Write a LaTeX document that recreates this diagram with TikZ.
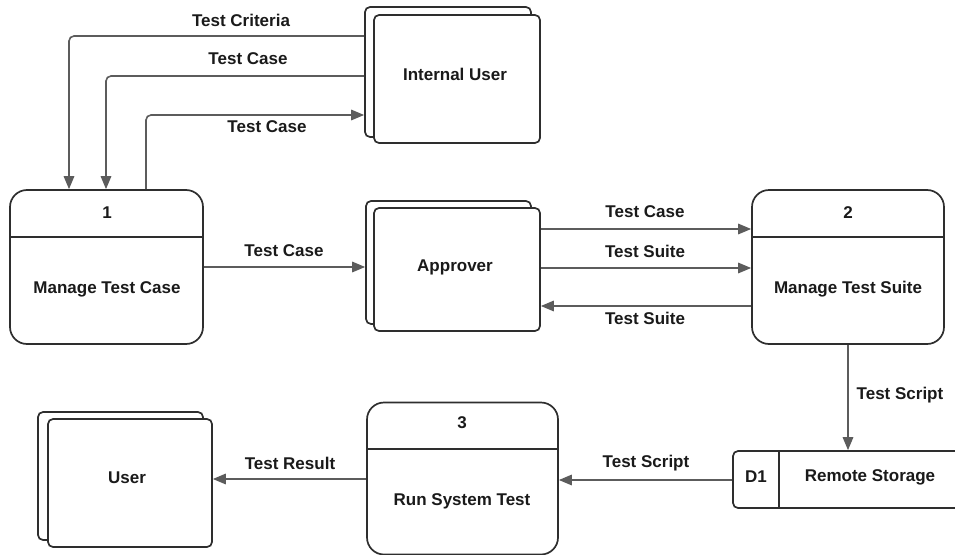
\documentclass[tikz,border=0pt]{standalone}
\usepackage{fontspec}
\setmainfont{Liberation Sans}
\usetikzlibrary{arrows.meta,calc}

\definecolor{edge}{HTML}{2E2E2E}
\definecolor{flowc}{HTML}{5C5C5C}
\definecolor{ink}{HTML}{1A1A1A}

\tikzset{
  box/.style={draw=edge, line width=1.7pt, fill=white, rounded corners=5pt, inner sep=0pt},
  proc/.style={draw=edge, line width=1.7pt, fill=white, rounded corners=17pt, inner sep=0pt},
  lbl/.style={font=\bfseries\fontsize{17}{20}\selectfont, text=ink, inner sep=0pt},
  flow/.style={draw=flowc, line width=1.6pt, rounded corners=5pt,
    -{Triangle[length=13pt,width=10.5pt]}},
  divider/.style={draw=edge, line width=1.7pt}
}

\begin{document}
\begin{tikzpicture}[x=1pt, y=-1pt]
\useasboundingbox (0,0) rectangle (955,554);
\begin{scope}
\clip (0,0) rectangle (955,554);

% external entity: Internal User (stacked)
\node[box, minimum width=166pt, minimum height=130pt] (iub) at (448,72) {};
\node[box, minimum width=166pt, minimum height=128pt] (iu) at (457,79) {};
\node[lbl] (iut) at (455,74) {Internal User};

% external entity: Approver (stacked)
\node[box, minimum width=165pt, minimum height=123pt] (apb) at (448.5,262.5) {};
\node[box, minimum width=166pt, minimum height=123pt] (ap) at (457,269.5) {};
\node[lbl] (apt) at (455,267) {Approver};

% external entity: User (stacked)
\node[box, minimum width=165pt, minimum height=128pt] (usb) at (120.5,476) {};
\node[box, minimum width=164pt, minimum height=128pt] (us) at (130,483) {};
\node[lbl] (ust) at (127,478) {User};

% process 1
\node[proc, minimum width=193pt, minimum height=154pt] (p1) at (106.5,267) {};
\draw[divider] (p1.west |- 0,237) coordinate (p1l) -- (p1.east |- 0,237) coordinate (p1r);
\node[lbl] (p1n) at (107,213) {1};
\node[lbl] (p1t) at (107,289) {Manage Test Case};

% process 2
\node[proc, minimum width=192pt, minimum height=154pt] (p2) at (848,267) {};
\draw[divider] (p2.west |- 0,237) coordinate (p2l) -- (p2.east |- 0,237) coordinate (p2r);
\node[lbl] (p2n) at (848,213) {2};
\node[lbl] (p2t) at (848,289) {Manage Test Suite};

% process 3 (runs past the lower edge)
\node[proc, minimum width=191pt, minimum height=152pt] (p3) at (462.5,478.5) {};
\draw[divider] (p3.west |- 0,449) coordinate (p3l) -- (p3.east |- 0,449) coordinate (p3r);
\node[lbl] (p3n) at (462,423) {3};
\node[lbl] (p3t) at (462,501) {Run System Test};

% data store D1 (runs past the right edge)
\node[box, minimum width=240pt, minimum height=57pt] (d1) at (853,479.5) {};
\draw[divider] (779,451) coordinate (d1a) -- (779,508) coordinate (d1b);
\node[lbl] (d1n) at (756,477) {D1};
\node[lbl] (d1t) at (870,477) {Remote Storage};

% flows between Internal User and process 1
\coordinate (c1) at (69,36);
\coordinate (c2) at (106,76);
\coordinate (c3) at (146,115);
\draw[flow] (iub.west |- c1) -| (p1.north -| c1);
\draw[flow] (iub.west |- c2) -| (p1.north -| c2);
\draw[flow] (p1.north -| c3) |- (iub.west |- c3);
\node[lbl] (l1) at (241,20) {Test Criteria};
\node[lbl] (l2) at (248,59) {Test Case};
\node[lbl] (l3) at (267,127) {Test Case};

% process 1 to Approver
\draw[flow] (p1.east |- 0,267) -- (apb.west |- 0,267);
\node[lbl] (l4) at (284,251) {Test Case};

% Approver and process 2
\draw[flow] (ap.east |- 0,229) -- (p2.west |- 0,229);
\draw[flow] (ap.east |- 0,268) -- (p2.west |- 0,268);
\draw[flow] (p2.west |- 0,306) -- (ap.east |- 0,306);
\node[lbl] (l5) at (645,212) {Test Case};
\node[lbl] (l6) at (645,251) {Test Suite};
\node[lbl] (l7) at (645,318) {Test Suite};

% process 2 to D1
\draw[flow] (p2.south) -- (d1.north -| p2.south);
\node[lbl] (l8) at (900,395) {Test Script};

% D1 to process 3
\draw[flow] (d1.west |- 0,480) -- (p3.east |- 0,480);
\node[lbl] (l9) at (646,463) {Test Script};

% process 3 to User
\draw[flow] (p3.west |- 0,479) -- (us.east |- 0,479);
\node[lbl] (l10) at (290,463) {Test Result};
\end{scope}
\end{tikzpicture}
\end{document}
